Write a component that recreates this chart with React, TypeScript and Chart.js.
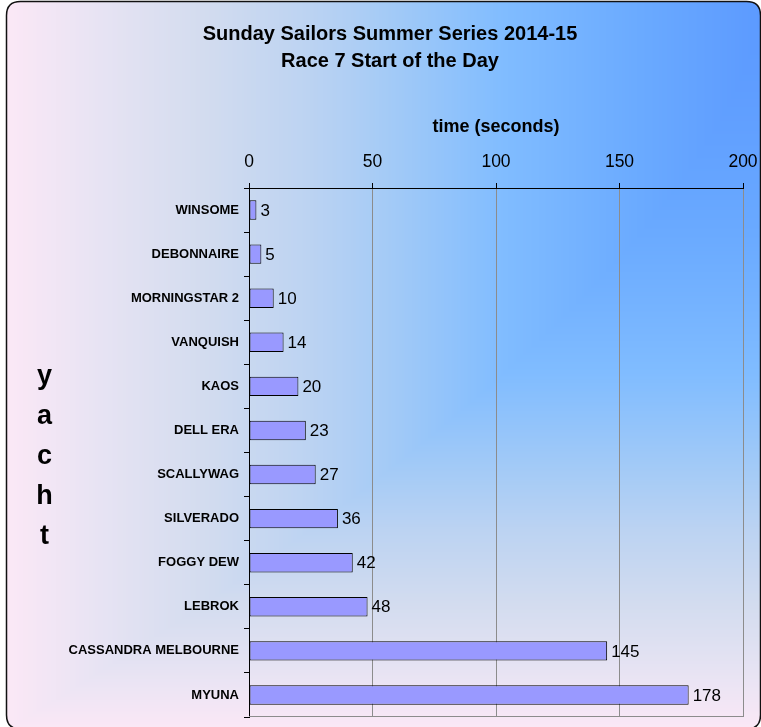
import React, { useEffect, useRef } from "react";
import { Chart, registerables } from "chart.js";

Chart.register(...registerables);

const yachts = [
  "WINSOME",
  "DEBONNAIRE",
  "MORNINGSTAR 2",
  "VANQUISH",
  "KAOS",
  "DELL ERA",
  "SCALLYWAG",
  "SILVERADO",
  "FOGGY DEW",
  "LEBROK",
  "CASSANDRA MELBOURNE",
  "MYUNA",
];
const times = [3, 5, 10, 14, 20, 23, 27, 36, 42, 48, 145, 178];
const xTicks = [0, 50, 100, 150, 200];
const titleLines = ["Sunday Sailors Summer Series 2014-15", "Race 7 Start of the Day"];
const xTitle = "time (seconds)";
const yTitle = "yacht";

const FONT = "Arial, 'Liberation Sans', sans-serif";

const stops: [number, number[]][] = [
  [0, [92, 154, 255]],
  [0.16, [106, 170, 255]],
  [0.34, [128, 188, 255]],
  [0.5, [165, 203, 246]],
  [0.6, [188, 211, 242]],
  [0.74, [211, 220, 239]],
  [0.87, [230, 227, 243]],
  [1, [251, 232, 246]],
];

function colorAt(t: number): number[] {
  if (t <= 0) return stops[0][1];
  if (t >= 1) return stops[stops.length - 1][1];
  for (let i = 1; i < stops.length; i++) {
    const [t1, c1] = stops[i];
    const [t0, c0] = stops[i - 1];
    if (t <= t1) {
      const f = (t - t0) / (t1 - t0);
      return [0, 1, 2].map((k) => c0[k] + (c1[k] - c0[k]) * f);
    }
  }
  return stops[stops.length - 1][1];
}

const BOX = { L: 6.5, T: 1.5, R: 760.5, B: 729, r: 14 };

let bgCache: HTMLCanvasElement | null = null;
function getBg(w: number, h: number) {
  if (bgCache && bgCache.width === w && bgCache.height === h) return bgCache;
  const c = document.createElement("canvas");
  c.width = w;
  c.height = h;
  const g = c.getContext("2d")!;
  const img = g.createImageData(w, h);
  const BW = BOX.R - BOX.L;
  const BH = BOX.B - BOX.T;
  for (let y = 0; y < h; y++) {
    const dy = Math.max(0, (y - BOX.T) / BH);
    const gy = Math.pow(dy, 1.6);
    for (let x = 0; x < w; x++) {
      const dx = Math.max(0, (BOX.R - x) / BW);
      const t = Math.max(dx, gy);
      const col = colorAt(t);
      const idx = (y * w + x) * 4;
      img.data[idx] = col[0];
      img.data[idx + 1] = col[1];
      img.data[idx + 2] = col[2];
      img.data[idx + 3] = 255;
    }
  }
  g.putImageData(img, 0, 0);
  bgCache = c;
  return c;
}

function roundRectPath(ctx: CanvasRenderingContext2D) {
  const { L, T, R, B, r } = BOX;
  ctx.beginPath();
  ctx.moveTo(L + r, T);
  ctx.lineTo(R - r, T);
  ctx.quadraticCurveTo(R, T, R, T + r);
  ctx.lineTo(R, B - r);
  ctx.quadraticCurveTo(R, B, R - r, B);
  ctx.lineTo(L + r, B);
  ctx.quadraticCurveTo(L, B, L, B - r);
  ctx.lineTo(L, T + r);
  ctx.quadraticCurveTo(L, T, L + r, T);
  ctx.closePath();
}

const decorPlugin = {
  id: "decor",
  beforeDraw(chart: any) {
    const ctx: CanvasRenderingContext2D = chart.ctx;
    const w = chart.width;
    const h = chart.height;
    ctx.save();
    ctx.fillStyle = "#ffffff";
    ctx.fillRect(0, 0, w, h);
    roundRectPath(ctx);
    ctx.save();
    ctx.clip();
    ctx.drawImage(getBg(w, h), 0, 0);
    ctx.restore();
    roundRectPath(ctx);
    ctx.lineWidth = 1.5;
    ctx.strokeStyle = "#111111";
    ctx.stroke();
    ctx.restore();
  },
  beforeDatasetsDraw(chart: any) {
    const ctx: CanvasRenderingContext2D = chart.ctx;
    const a = chart.chartArea;
    ctx.save();
    ctx.strokeStyle = "#8c8c8c";
    ctx.lineWidth = 1;
    ctx.beginPath();
    ctx.moveTo(a.left, Math.round(a.bottom) - 0.5);
    ctx.lineTo(a.right + 1, Math.round(a.bottom) - 0.5);
    ctx.stroke();
    ctx.restore();
  },
  afterDatasetsDraw(chart: any) {
    const ctx: CanvasRenderingContext2D = chart.ctx;
    const meta = chart.getDatasetMeta(0);
    ctx.save();
    ctx.fillStyle = "#000000";
    ctx.font = `17px ${FONT}`;
    ctx.textAlign = "left";
    ctx.textBaseline = "middle";
    meta.data.forEach((bar: any, i: number) => {
      ctx.fillText(String(times[i]), bar.x + 4, bar.y + 1);
    });
    ctx.restore();
  },
  afterDraw(chart: any) {
    const ctx: CanvasRenderingContext2D = chart.ctx;
    const a = chart.chartArea;
    ctx.save();
    ctx.fillStyle = "#000000";
    ctx.textAlign = "center";
    ctx.textBaseline = "middle";
    ctx.font = `bold 20px ${FONT}`;
    titleLines.forEach((line, i) => {
      ctx.fillText(line, 390, 34 + i * 27);
    });
    ctx.font = `bold 18px ${FONT}`;
    ctx.fillText(xTitle, (a.left + a.right) / 2, 127);
    ctx.font = `bold 27px ${FONT}`;
    ctx.textBaseline = "alphabetic";
    yTitle.split("").forEach((ch, i) => {
      ctx.fillText(ch, 44.5, 384 + i * 40);
    });
    ctx.restore();
  },
};

export default function App() {
  const ref = useRef<HTMLCanvasElement | null>(null);

  useEffect(() => {
    if (!ref.current) return;
    const chart = new Chart(ref.current, {
      type: "bar",
      data: {
        labels: yachts,
        datasets: [
          {
            data: times,
            backgroundColor: "#9999ff",
            borderColor: "#000000",
            borderWidth: 1,
            borderSkipped: false,
            barPercentage: 0.44,
            categoryPercentage: 1,
          },
        ],
      },
      options: {
        indexAxis: "y",
        responsive: false,
        devicePixelRatio: 1,
        animation: false,
        layout: { padding: { left: 0, top: 0, right: 18, bottom: 10 } },
        plugins: {
          legend: { display: false },
          tooltip: { enabled: false },
          title: { display: false },
        },
        scales: {
          x: {
            position: "top",
            min: xTicks[0],
            max: xTicks[xTicks.length - 1],
            afterFit: (s: any) => {
              s.height = 188;
              s.paddingLeft = 0;
              s.paddingRight = 0;
            },
            ticks: {
              stepSize: xTicks[1] - xTicks[0],
              color: "#000000",
              font: { family: FONT, size: 17.5 },
              padding: 10,
            },
            grid: {
              color: "#8c8c8c",
              lineWidth: 1,
              tickColor: "#000000",
              tickLength: 5,
              drawOnChartArea: true,
            },
            border: { color: "#000000", width: 1 },
          },
          y: {
            afterFit: (s: any) => {
              s.width = 249;
              s.paddingTop = 0;
              s.paddingBottom = 0;
            },
            ticks: {
              color: "#000000",
              font: { family: FONT, size: 13, weight: "bold" },
              padding: 5,
            },
            grid: {
              offset: true,
              drawOnChartArea: false,
              tickColor: "#000000",
              tickLength: 5,
            },
            border: { color: "#000000", width: 1 },
          },
        },
      },
      plugins: [decorPlugin],
    });
    return () => chart.destroy();
  }, []);

  return (
    <div style={{ position: "absolute", left: 0, top: 0, width: 761, height: 727 }}>
      <canvas ref={ref} width={761} height={727} style={{ display: "block", width: 761, height: 727 }} />
    </div>
  );
}
